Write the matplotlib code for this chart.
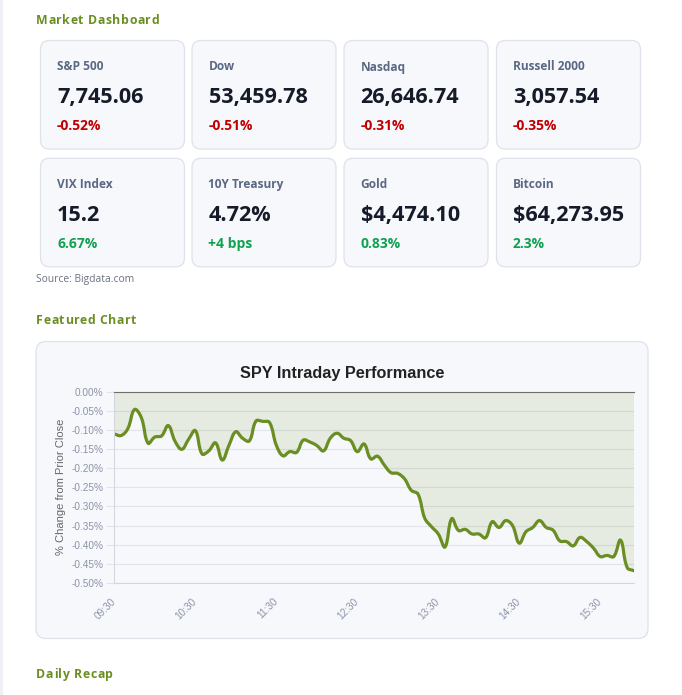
import matplotlib
matplotlib.use('Agg')
import matplotlib.pyplot as plt
from matplotlib.patches import FancyBboxPatch, Rectangle, PathPatch
from matplotlib.path import Path

# ---- data ----
card_labels = ['S&P 500', 'Dow', 'Nasdaq', 'Russell 2000',
               'VIX Index', '10Y Treasury', 'Gold', 'Bitcoin']
card_values = ['7,745.06', '53,459.78', '26,646.74', '3,057.54',
               '15.2', '4.72%', '$4,474.10', '$64,273.95']
card_changes = ['-0.52%', '-0.51%', '-0.31%', '-0.35%',
                '6.67%', '+4 bps', '0.83%', '2.3%']

# SPY % change vs prior close, 5-minute bars from 09:30 to 15:55
spy_change = [
    -0.111, -0.115, -0.097, -0.047, -0.068, -0.135, -0.119, -0.116, -0.089, -0.130,
    -0.151, -0.125, -0.102, -0.163, -0.155, -0.134, -0.179, -0.140, -0.105, -0.122,
    -0.129, -0.077, -0.078, -0.081, -0.140, -0.168, -0.157, -0.159, -0.127, -0.132,
    -0.141, -0.155, -0.122, -0.109, -0.122, -0.128, -0.157, -0.137, -0.176, -0.169,
    -0.192, -0.212, -0.214, -0.228, -0.258, -0.268, -0.331, -0.353, -0.372, -0.406,
    -0.332, -0.363, -0.360, -0.372, -0.372, -0.382, -0.340, -0.355, -0.337, -0.350,
    -0.396, -0.366, -0.355, -0.337, -0.355, -0.362, -0.390, -0.392, -0.403, -0.381,
    -0.392, -0.409, -0.431, -0.428, -0.431, -0.388, -0.460, -0.468,
]
tick_pos = [0, 12, 24, 36, 48, 60, 72]
tick_labels = ['09:30', '10:30', '11:30', '12:30', '13:30', '14:30', '15:30']
y_ticks = [0.0, -0.05, -0.10, -0.15, -0.20, -0.25, -0.30, -0.35, -0.40, -0.45, -0.50]

W, H = 682, 695
green = '#6b8e23'
ui_font = 'Open Sans'
chart_font = 'Liberation Sans'

fig = plt.figure(figsize=(W / 100, H / 100), dpi=100)
fig.patch.set_facecolor('white')

# page layer in pixel coordinates
bg = fig.add_axes([0, 0, 1, 1])
bg.set_xlim(0, W)
bg.set_ylim(H, 0)
bg.axis('off')
bg.add_patch(Rectangle((0, 0), 3, H, color='#eef0f6', lw=0))

renderer = fig.canvas.get_renderer()


def spaced_text(x, y, s, spacing, **kw):
    # letter-spaced text, measured char by char
    def width(t):
        probe = bg.text(0, 0, t + '|', **kw)
        bar = bg.text(0, 0, '|', **kw)
        w = probe.get_window_extent(renderer).width - bar.get_window_extent(renderer).width
        probe.remove()
        bar.remove()
        return w
    for i, ch in enumerate(s):
        if ch == ' ':
            continue
        bg.text(x + width(s[:i]) + i * spacing, y, ch, **kw)


head_kw = dict(fontfamily=ui_font, fontsize=8.8, fontweight='bold', color=green, va='baseline')
spaced_text(36, 24.3, 'Market Dashboard', 0.6, **head_kw)
spaced_text(36, 324.3, 'Featured Chart', 0.6, **head_kw)
spaced_text(36, 678.3, 'Daily Recap', 0.6, **head_kw)

# metric cards
card_left = [40.5, 192, 344, 496.5]
card_top = [40.5, 158.3]
card_w, card_h = 144, 108.5
for i, (lab, val, chg) in enumerate(zip(card_labels, card_values, card_changes)):
    x0 = card_left[i % 4]
    y0 = card_top[i // 4]
    bg.add_patch(FancyBboxPatch((x0, y0), card_w, card_h,
                                boxstyle='round,pad=0,rounding_size=9',
                                fc='#f7f8fc', ec='#dfe2ea', lw=0.9))
    tx = x0 + 16.5
    bg.text(tx, y0 + 30, lab, fontfamily=ui_font, fontsize=8.6, fontweight='bold',
            color='#5b6883', va='baseline', parse_math=False)
    bg.text(tx, y0 + 62.6, val, fontfamily=ui_font, fontsize=15.6, fontweight='bold',
            color='#161b29', va='baseline', parse_math=False)
    col = '#c00000' if chg.startswith('-') else '#12a150'
    bg.text(tx, y0 + 89.3, chg, fontfamily=ui_font, fontsize=10, fontweight='bold',
            color=col, va='baseline', parse_math=False)

bg.text(36, 281.7, 'Source: Bigdata.com', fontfamily=ui_font, fontsize=7.4,
        color='#6b7280', va='baseline')

# chart card
bg.add_patch(FancyBboxPatch((36, 341.5), 612, 297, boxstyle='round,pad=0,rounding_size=10',
                            fc='#f7f8fc', ec='#dfe2ea', lw=0.9))
bg.text(342, 378.3, 'SPY Intraday Performance', fontfamily=chart_font, fontsize=11.7,
        fontweight='bold', color='#222222', ha='center', va='baseline')
bg.text(61, 487, '% Change from Prior Close', fontfamily=chart_font, fontsize=8,
        color='#666666', rotation=90, ha='center', va='center')

# line chart
left, right, top, bottom = 114.3, 634, 391.5, 583
ax = fig.add_axes([left / W, 1 - bottom / H, (right - left) / W, (bottom - top) / H])
ax.set_facecolor('none')
n = len(spy_change)
ax.set_xlim(0, n - 1)
ax.set_ylim(-0.5, 0)

# smooth curve through the points (cubic bezier, tension 0.4)
sx = (right - left) / (n - 1)
sy = (bottom - top) / 0.5
tension = 0.4
pts = list(zip(range(n), spy_change))
cp_in, cp_out = [], []
for i, (xi, yi) in enumerate(pts):
    xp, yp = pts[max(i - 1, 0)]
    xn, yn = pts[min(i + 1, n - 1)]
    d01 = (((xi - xp) * sx) ** 2 + ((yi - yp) * sy) ** 2) ** 0.5
    d12 = (((xn - xi) * sx) ** 2 + ((yn - yi) * sy) ** 2) ** 0.5
    tot = d01 + d12 if d01 + d12 > 0 else 1
    fa = tension * d01 / tot
    fb = tension * d12 / tot
    cin = (xi - fa * (xn - xp), min(max(yi - fa * (yn - yp), -0.5), 0))
    cout = (xi + fb * (xn - xp), min(max(yi + fb * (yn - yp), -0.5), 0))
    cp_in.append(cin)
    cp_out.append(cout)
verts = [pts[0]]
codes = [Path.MOVETO]
for i in range(n - 1):
    verts += [cp_out[i], cp_in[i + 1], pts[i + 1]]
    codes += [Path.CURVE4] * 3
line_path = Path(verts, codes)
fill_path = Path(verts + [(n - 1, 0), (0, 0), (0, 0)],
                 codes + [Path.LINETO, Path.LINETO, Path.CLOSEPOLY])
ax.add_patch(PathPatch(fill_path, fc=green, alpha=0.12, lw=0))
ax.add_patch(PathPatch(line_path, fc='none', ec=green, lw=2.3,
                       joinstyle='round', capstyle='round'))

ax.set_yticks(y_ticks)
ax.set_yticklabels([f'{v:.2f}%' if v != 0 else '0.00%' for v in y_ticks])
ax.set_xticks(tick_pos)
ax.set_xticklabels(tick_labels, rotation=45, ha='right', va='center', rotation_mode='anchor')

grid_col = '#e1e4ea'
ax.set_axisbelow(True)
ax.yaxis.grid(True, color=grid_col, lw=0.8)
ax.xaxis.grid(False)
ax.tick_params(axis='y', length=5.8, width=0.8, color=grid_col, pad=2,
               labelsize=7.2, labelcolor='#8a93a6')
ax.tick_params(axis='x', length=0, pad=12, labelsize=7.2, labelcolor='#8a93a6')
for lbl in ax.get_xticklabels() + ax.get_yticklabels():
    lbl.set_fontfamily(chart_font)

ax.spines['right'].set_visible(False)
ax.spines['left'].set_color('#d3d6de')
ax.spines['bottom'].set_color('#d3d6de')
ax.spines['top'].set_color('#6e6e6e')
for s in ['left', 'bottom', 'top']:
    ax.spines[s].set_linewidth(0.8)

fig.savefig('out.png', dpi=100, facecolor='white')
